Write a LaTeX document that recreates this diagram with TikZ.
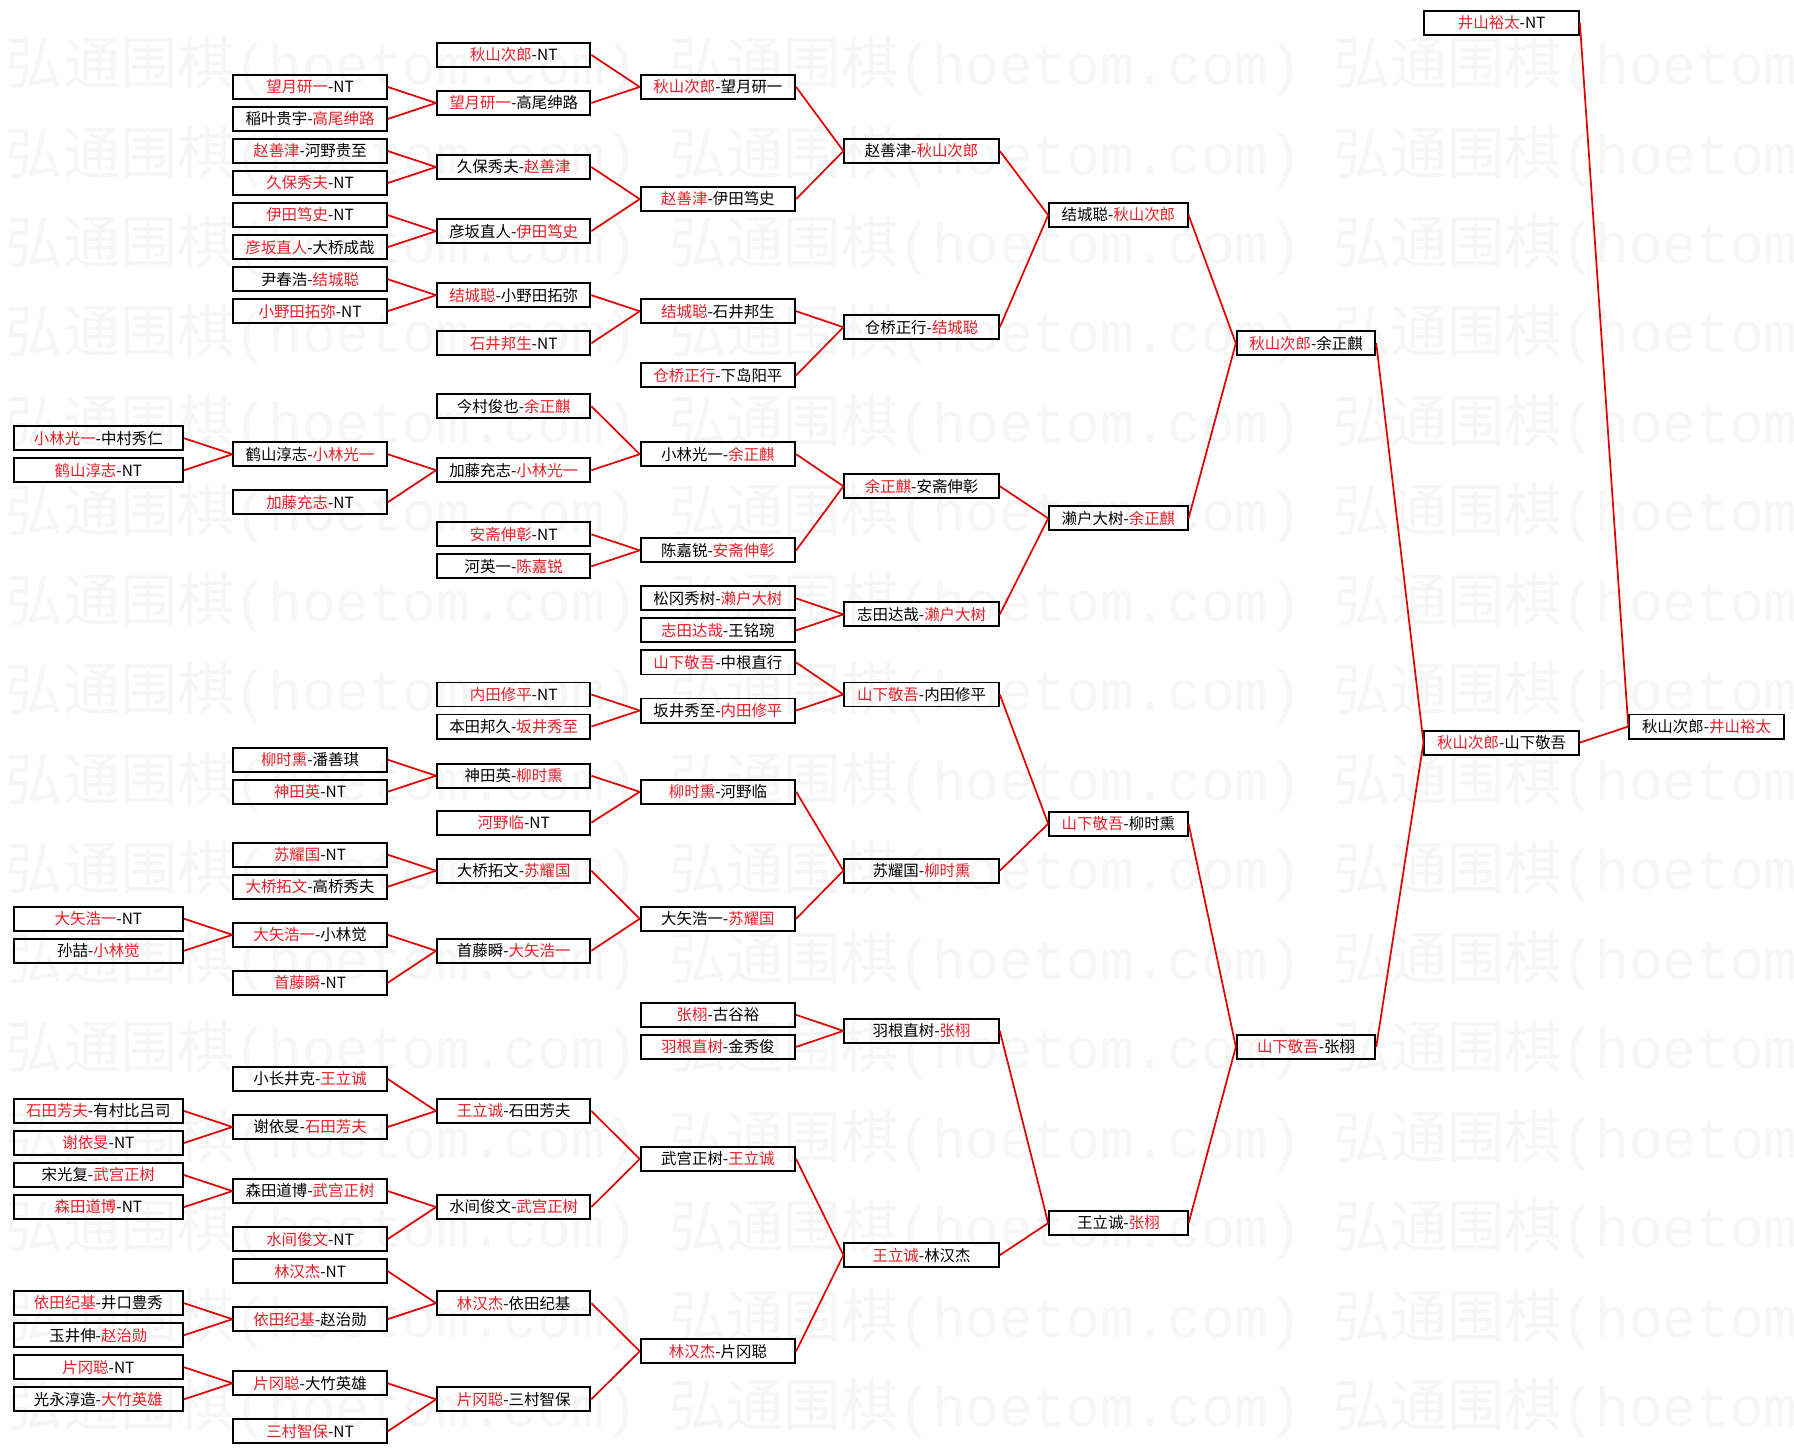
\documentclass[tikz,border=0pt]{standalone}
\usepackage{fontspec}
\setmainfont{Noto Sans CJK SC}
\newfontfamily\wmmono{Liberation Mono}
\definecolor{wred}{RGB}{232,30,38}
\definecolor{lred}{RGB}{226,0,0}
\newcommand\R[1]{\textcolor{wred}{#1}}
\begin{document}
\begin{tikzpicture}[x=1pt,y=-1pt,
  box/.style={draw=black,line width=1.7pt,minimum height=21pt,inner sep=0pt,
    font=\fontsize{13.5pt}{14pt}\selectfont},
  k0/.style={box,minimum width=148pt},
  k1/.style={box,minimum width=134pt},
  k3/.style={box,minimum width=135pt},
  k5/.style={box,minimum width=121pt},
  edge/.style={draw=lred,line width=1.5pt},
  wm/.style={anchor=west,inner sep=0pt,text=black!3.5,
    font=\fontsize{50pt}{50pt}\selectfont}]
\useasboundingbox (0,0) rectangle (1568,1270);
\fill[white] (0,0) rectangle (1568,1270);
\begin{scope}
\clip (0,0) rectangle (1568,1270);
\foreach \r in {0,...,15}{
  \foreach \cx/\ci in {5/a,585/b,1165/c}{
    \node[wm] (wm\r\ci) at (\cx,{58+78.2*\r}) {弘通围棋{\wmmono\fontsize{49pt}{49pt}\selectfont(hoetom.com)}};
  }
}
\end{scope}

% column 0
\node[k0] (c0a) at (86,383) {\R{小林光一}-中村秀仁};
\node[k0] (c0b) at (86,411) {\R{鹤山淳志}-NT};
\node[k0] (c0c) at (86,803) {\R{大矢浩一}-NT};
\node[k0] (c0d) at (86,831) {孙喆-\R{小林觉}};
\node[k0] (c0e) at (86,971) {\R{石田芳夫}-有村比吕司};
\node[k0] (c0f) at (86,999) {\R{谢依旻}-NT};
\node[k0] (c0g) at (86,1027) {宋光复-\R{武宫正树}};
\node[k0] (c0h) at (86,1055) {\R{森田道博}-NT};
\node[k0] (c0i) at (86,1139) {\R{依田纪基}-井口豊秀};
\node[k0] (c0j) at (86,1167) {玉井伸-\R{赵治勋}};
\node[k0] (c0k) at (86,1195) {\R{片冈聪}-NT};
\node[k0] (c0l) at (86,1223) {光永淳造-\R{大竹英雄}};
% column 1
\node[k1] (c1a) at (271,76) {\R{望月研一}-NT};
\node[k1] (c1b) at (271,104) {稲叶贵宇-\R{高尾绅路}};
\node[k1] (c1c) at (271,132) {\R{赵善津}-河野贵至};
\node[k1] (c1d) at (271,160) {\R{久保秀夫}-NT};
\node[k1] (c1e) at (271,188) {\R{伊田笃史}-NT};
\node[k1] (c1f) at (271,216) {\R{彦坂直人}-大桥成哉};
\node[k1] (c1g) at (271,244) {尹春浩-\R{结城聪}};
\node[k1] (c1h) at (271,272) {\R{小野田拓弥}-NT};
\node[k1] (c1i) at (271,397) {鹤山淳志-\R{小林光一}};
\node[k1] (c1j) at (271,439) {\R{加藤充志}-NT};
\node[k1] (c1k) at (271,664) {\R{柳时熏}-潘善琪};
\node[k1] (c1l) at (271,692) {\R{神田英}-NT};
\node[k1] (c1m) at (271,747) {\R{苏耀国}-NT};
\node[k1] (c1n) at (271,775) {\R{大桥拓文}-高桥秀夫};
\node[k1] (c1o) at (271,817) {\R{大矢浩一}-小林觉};
\node[k1] (c1p) at (271,859) {\R{首藤瞬}-NT};
\node[k1] (c1q) at (271,943) {小长井克-\R{王立诚}};
\node[k1] (c1r) at (271,985) {谢依旻-\R{石田芳夫}};
\node[k1] (c1s) at (271,1041) {森田道博-\R{武宫正树}};
\node[k1] (c1t) at (271,1083) {\R{水间俊文}-NT};
\node[k1] (c1u) at (271,1111) {\R{林汉杰}-NT};
\node[k1] (c1v) at (271,1153) {\R{依田纪基}-赵治勋};
\node[k1] (c1w) at (271,1209) {\R{片冈聪}-大竹英雄};
\node[k1] (c1x) at (271,1251) {\R{三村智保}-NT};
% column 2
\node[k1] (c2a) at (449,48) {\R{秋山次郎}-NT};
\node[k1] (c2b) at (449,90) {\R{望月研一}-高尾绅路};
\node[k1] (c2c) at (449,146) {久保秀夫-\R{赵善津}};
\node[k1] (c2d) at (449,202) {彦坂直人-\R{伊田笃史}};
\node[k1] (c2e) at (449,258) {\R{结城聪}-小野田拓弥};
\node[k1] (c2f) at (449,300) {\R{石井邦生}-NT};
\node[k1] (c2g) at (449,355) {今村俊也-\R{余正麒}};
\node[k1] (c2h) at (449,411) {加藤充志-\R{小林光一}};
\node[k1] (c2i) at (449,467) {\R{安斋伸彰}-NT};
\node[k1] (c2j) at (449,495) {河英一-\R{陈嘉锐}};
\node[k1] (c2k) at (449,607) {\R{内田修平}-NT};
\node[k1] (c2l) at (449,635) {本田邦久-\R{坂井秀至}};
\node[k1] (c2m) at (449,678) {神田英-\R{柳时熏}};
\node[k1] (c2n) at (449,719) {\R{河野临}-NT};
\node[k1] (c2o) at (449,761) {大桥拓文-\R{苏耀国}};
\node[k1] (c2p) at (449,831) {首藤瞬-\R{大矢浩一}};
\node[k1] (c2q) at (449,971) {\R{王立诚}-石田芳夫};
\node[k1] (c2r) at (449,1055) {水间俊文-\R{武宫正树}};
\node[k1] (c2s) at (449,1139) {\R{林汉杰}-依田纪基};
\node[k1] (c2t) at (449,1223) {\R{片冈聪}-三村智保};
% column 3
\node[k3] (c3a) at (627.5,76) {\R{秋山次郎}-望月研一};
\node[k3] (c3b) at (627.5,174) {\R{赵善津}-伊田笃史};
\node[k3] (c3c) at (627.5,272) {\R{结城聪}-石井邦生};
\node[k3] (c3d) at (627.5,328) {\R{仓桥正行}-下岛阳平};
\node[k3] (c3e) at (627.5,397) {小林光一-\R{余正麒}};
\node[k3] (c3f) at (627.5,481) {陈嘉锐-\R{安斋伸彰}};
\node[k3] (c3g) at (627.5,523) {松冈秀树-\R{濑户大树}};
\node[k3] (c3h) at (627.5,551) {\R{志田达哉}-王铭琬};
\node[k3] (c3i) at (627.5,579) {\R{山下敬吾}-中根直行};
\node[k3] (c3j) at (627.5,621) {坂井秀至-\R{内田修平}};
\node[k3] (c3k) at (627.5,692) {\R{柳时熏}-河野临};
\node[k3] (c3l) at (627.5,803) {大矢浩一-\R{苏耀国}};
\node[k3] (c3m) at (627.5,887) {\R{张栩}-古谷裕};
\node[k3] (c3n) at (627.5,915) {\R{羽根直树}-金秀俊};
\node[k3] (c3o) at (627.5,1013) {武宫正树-\R{王立诚}};
\node[k3] (c3p) at (627.5,1181) {\R{林汉杰}-片冈聪};
% column 4
\node[k3] (c4a) at (805.5,132) {赵善津-\R{秋山次郎}};
\node[k3] (c4b) at (805.5,286) {仓桥正行-\R{结城聪}};
\node[k3] (c4c) at (805.5,425) {\R{余正麒}-安斋伸彰};
\node[k3] (c4d) at (805.5,537) {志田达哉-\R{濑户大树}};
\node[k3] (c4e) at (805.5,607) {\R{山下敬吾}-内田修平};
\node[k3] (c4f) at (805.5,761) {苏耀国-\R{柳时熏}};
\node[k3] (c4g) at (805.5,901) {羽根直树-\R{张栩}};
\node[k3] (c4h) at (805.5,1097) {\R{王立诚}-林汉杰};
% column 5
\node[k5] (c5a) at (977.5,188) {结城聪-\R{秋山次郎}};
\node[k5] (c5b) at (977.5,453) {濑户大树-\R{余正麒}};
\node[k5] (c5c) at (977.5,720) {\R{山下敬吾}-柳时熏};
\node[k5] (c5d) at (977.5,1069) {王立诚-\R{张栩}};
% column 6
\node[k5] (c6a) at (1141.5,300) {\R{秋山次郎}-余正麒};
\node[k5] (c6b) at (1141.5,915) {\R{山下敬吾}-张栩};
% column 7
\node[k3] (c7a) at (1312.5,20) {\R{井山裕太}-NT};
\node[k3] (c7b) at (1312.5,649) {\R{秋山次郎}-山下敬吾};
% column 8
\node[k3] (c8a) at (1491.5,635) {秋山次郎-\R{井山裕太}};

\foreach \a/\b in {c0a/c1i,c0b/c1i,c0c/c1o,c0d/c1o,c0e/c1r,c0f/c1r,c0g/c1s,c0h/c1s,
  c0i/c1v,c0j/c1v,c0k/c1w,c0l/c1w,
  c1a/c2b,c1b/c2b,c1c/c2c,c1d/c2c,c1e/c2d,c1f/c2d,c1g/c2e,c1h/c2e,c1i/c2h,c1j/c2h,
  c1k/c2m,c1l/c2m,c1m/c2o,c1n/c2o,c1o/c2p,c1p/c2p,c1q/c2q,c1r/c2q,c1s/c2r,c1t/c2r,
  c1u/c2s,c1v/c2s,c1w/c2t,c1x/c2t,
  c2a/c3a,c2b/c3a,c2c/c3b,c2d/c3b,c2e/c3c,c2f/c3c,c2g/c3e,c2h/c3e,c2i/c3f,c2j/c3f,
  c2k/c3j,c2l/c3j,c2m/c3k,c2n/c3k,c2o/c3l,c2p/c3l,c2q/c3o,c2r/c3o,c2s/c3p,c2t/c3p,
  c3a/c4a,c3b/c4a,c3c/c4b,c3d/c4b,c3e/c4c,c3f/c4c,c3g/c4d,c3h/c4d,c3i/c4e,c3j/c4e,
  c3k/c4f,c3l/c4f,c3m/c4g,c3n/c4g,c3o/c4h,c3p/c4h,
  c4a/c5a,c4b/c5a,c4c/c5b,c4d/c5b,c4e/c5c,c4f/c5c,c4g/c5d,c4h/c5d,
  c5a/c6a,c5b/c6a,c5c/c6b,c5d/c6b,
  c6a/c7b,c6b/c7b,c7a/c8a,c7b/c8a}
  \draw[edge] (\a.east) -- (\b.west);
\end{tikzpicture}
\end{document}
